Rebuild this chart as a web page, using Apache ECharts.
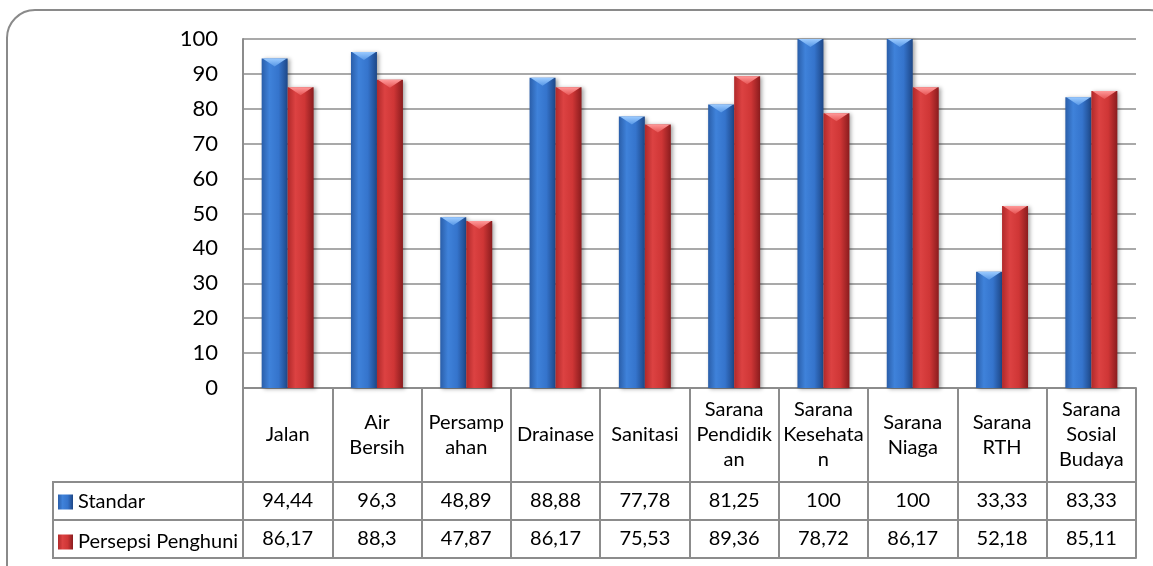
<!DOCTYPE html>
<html>
<head>
<meta charset="utf-8">
<script src="https://cdn.jsdelivr.net/npm/echarts@6/dist/echarts.min.js"></script>
<style>
html,body{margin:0;padding:0;background:#fff;}
#chart{width:1153px;height:566px;}
</style>
</head>
<body>
<div id="chart"></div>
<script>
// ---- data ----
var categories = ['Jalan', 'Air\nBersih', 'Persamp\nahan', 'Drainase', 'Sanitasi',
  'Sarana\nPendidik\nan', 'Sarana\nKesehata\nn', 'Sarana\nNiaga', 'Sarana\nRTH', 'Sarana\nSosial\nBudaya'];
var seriesNames = ['Standar', 'Persepsi Penghuni'];
var standar = [94.44, 96.3, 48.89, 88.88, 77.78, 81.25, 100, 100, 33.33, 83.33];
var persepsi = [86.17, 88.3, 47.87, 86.17, 75.53, 89.36, 78.72, 86.17, 52.18, 85.11];
var yTicks = [0, 10, 20, 30, 40, 50, 60, 70, 80, 90, 100];

function fmt(v) { return String(v).replace('.', ','); }

var FONT = 'Lato';
var LINE = '#8c8c8c';
var chart = echarts.init(document.getElementById('chart'));

var blueGrad = {type:'linear', x:0, y:0, x2:1, y2:0, colorStops:[
  {offset:0, color:'#2a5ea9'}, {offset:0.3, color:'#3f82da'}, {offset:0.65, color:'#3574cc'}, {offset:1, color:'#1d4787'}]};
var redGrad = {type:'linear', x:0, y:0, x2:1, y2:0, colorStops:[
  {offset:0, color:'#b0292a'}, {offset:0.3, color:'#dc4242'}, {offset:0.65, color:'#cf3636'}, {offset:1, color:'#8a1c1e'}]};
var blueCap = {type:'linear', x:0, y:0, x2:0, y2:1, colorStops:[
  {offset:0, color:'#9ccbff'}, {offset:1, color:'#5797e6'}]};
var redCap = {type:'linear', x:0, y:0, x2:0, y2:1, colorStops:[
  {offset:0, color:'#ff9a9a'}, {offset:1, color:'#e65454'}]};

var barW = 26;
var cellText = {fontFamily: FONT, fontSize: 20, color: '#000'};

var option = {
  animation: false,
  backgroundColor: '#fff',
  grid: {left: 243, right: 17, top: 39, bottom: 178, show: false},
  legend: {
    data: seriesNames,
    orient: 'vertical',
    left: 58, top: 492, padding: 0,
    itemWidth: 15, itemHeight: 15, itemGap: 20,
    icon: 'rect',
    textStyle: {fontFamily: FONT, fontSize: 20, color: '#000', lineHeight: 15},
    selectedMode: false
  },
  xAxis: [
    {
      type: 'category', data: categories, position: 'bottom',
      axisLine: {show: true, lineStyle: {color: LINE, width: 2}},
      axisTick: {show: true, length: 94, interval: 0, lineStyle: {color: LINE, width: 2}},
      axisLabel: Object.assign({interval: 0, margin: 47, verticalAlign: 'middle', lineHeight: 25, align: 'center'}, cellText),
      splitLine: {show: false}
    },
    {
      type: 'category', data: standar.map(fmt), position: 'bottom', offset: 94,
      axisLine: {show: true, lineStyle: {color: LINE, width: 2}},
      axisTick: {show: true, length: 38, interval: 0, lineStyle: {color: LINE, width: 2}},
      axisLabel: Object.assign({interval: 0, margin: 19, verticalAlign: 'middle'}, cellText)
    },
    {
      type: 'category', data: persepsi.map(fmt), position: 'bottom', offset: 132,
      axisLine: {show: true, lineStyle: {color: LINE, width: 2}},
      axisTick: {show: true, length: 38, interval: 0, lineStyle: {color: LINE, width: 2}},
      axisLabel: Object.assign({interval: 0, margin: 19, verticalAlign: 'middle'}, cellText)
    },
    {
      type: 'category', data: categories, position: 'bottom', offset: 170,
      axisLine: {show: true, lineStyle: {color: LINE, width: 2}},
      axisTick: {show: false}, axisLabel: {show: false}
    }
  ],
  yAxis: {
    type: 'value', min: yTicks[0], max: yTicks[yTicks.length - 1], interval: 10,
    axisLine: {show: true, lineStyle: {color: LINE, width: 2}},
    axisTick: {show: false},
    axisLabel: {fontFamily: FONT, fontSize: 22, color: '#000', margin: 25},
    splitLine: {show: true, lineStyle: {color: LINE, width: 1.5}}
  },
  series: [
    {
      name: seriesNames[0], type: 'bar', data: standar, barWidth: barW, barGap: '0%',
      itemStyle: {color: blueGrad, shadowBlur: 4, shadowColor: 'rgba(0,0,0,0.35)', shadowOffsetX: 2, shadowOffsetY: 1},
      z: 2
    },
    {
      name: seriesNames[1], type: 'bar', data: persepsi, barWidth: barW, barGap: '0%',
      itemStyle: {color: redGrad, shadowBlur: 4, shadowColor: 'rgba(0,0,0,0.35)', shadowOffsetX: 2, shadowOffsetY: 1},
      z: 2
    },
    {
      name: 'cap-standar', type: 'pictorialBar', data: standar,
      symbol: 'path://M0,0L20,0L10,7Z', symbolSize: [barW - 2, 8], symbolPosition: 'end',
      symbolOffset: [-barW / 2, 0], itemStyle: {color: blueCap}, z: 5, silent: true
    },
    {
      name: 'cap-persepsi', type: 'pictorialBar', data: persepsi,
      symbol: 'path://M0,0L20,0L10,7Z', symbolSize: [barW - 2, 8], symbolPosition: 'end',
      symbolOffset: [barW / 2, 0], itemStyle: {color: redCap}, z: 5, silent: true
    }
  ],
  graphic: [
    {type: 'rect', shape: {x: 7, y: 10, width: 1170, height: 590, r: 28}, style: {fill: 'none', stroke: '#8a8a8a', lineWidth: 2}, z: -1, silent: true},
    {type: 'rect', shape: {x: 53, y: 482, width: 190, height: 76}, style: {fill: 'none', stroke: LINE, lineWidth: 2}, silent: true},
    {type: 'line', shape: {x1: 53, y1: 520, x2: 243, y2: 520}, style: {stroke: LINE, lineWidth: 2}, silent: true}
  ]
};
chart.setOption(option);
</script>
</body>
</html>
